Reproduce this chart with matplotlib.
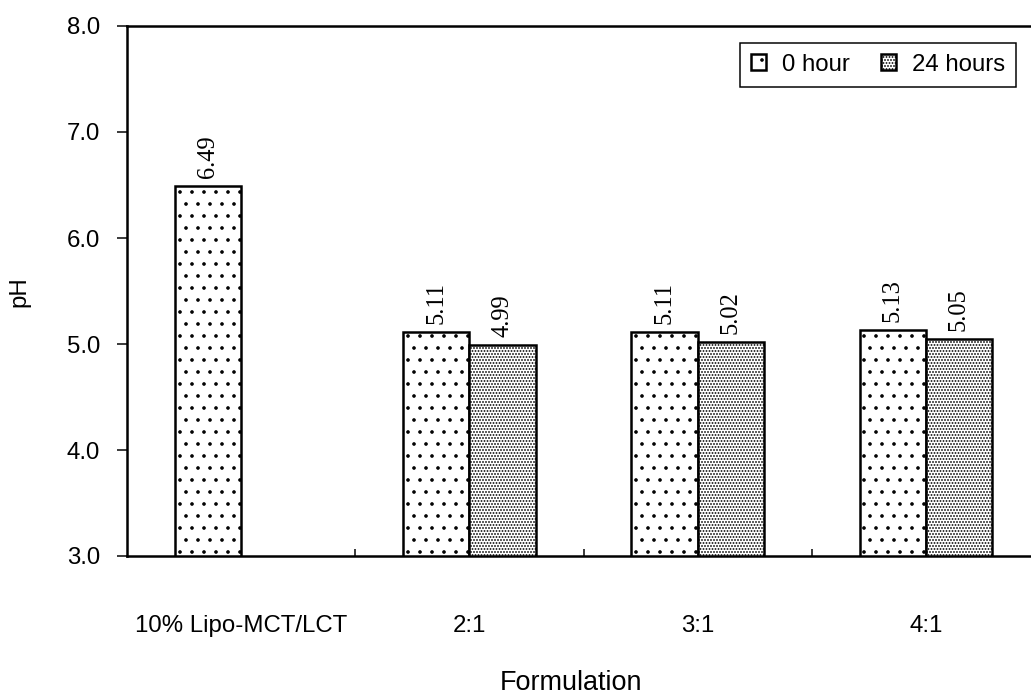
import numpy as np
import matplotlib.pyplot as plt

# pH of each formulation, measured right away and after a day
formulations = ['10% Lipo-MCT/LCT', '2:1', '3:1', '4:1']
ph_0h = [6.49, 5.11, 5.11, 5.13]
ph_24h = [np.nan, 4.99, 5.02, 5.05]
series_names = ['0 hour', '24 hours']

plt.rcParams['font.family'] = 'Liberation Sans'
plt.rcParams['hatch.linewidth'] = 1.2

W, H = 1031, 696
fig = plt.figure(figsize=(W / 72, H / 72), dpi=72)
# the plot frame runs a little past the right edge of the page
ax = fig.add_axes([127 / W, 140 / H, 913 / W, 530 / H])

x = np.arange(len(formulations))
w = 0.29
b0 = ax.bar(x - w / 2, ph_0h, w, facecolor='white', edgecolor='black',
            linewidth=2.5, hatch='.')
b1 = ax.bar(x + w / 2, ph_24h, w, facecolor='white', edgecolor='black',
            linewidth=2.5, hatch='....')

for bars, vals in [(b0, ph_0h), (b1, ph_24h)]:
    labels = ['' if np.isnan(v) else f'{v:.2f}' for v in vals]
    ax.bar_label(bars, labels=labels, padding=8, rotation=90,
                 family='Liberation Serif', fontsize=24.5)

ax.set_xlim(-0.5, 3.5)
ax.set_ylim(3.0, 8.0)
ax.set_yticks(np.arange(3, 8.01, 1.0))
ax.yaxis.set_major_formatter('{x:.1f}')
ax.tick_params(axis='y', length=10, width=1.5, pad=17, labelsize=24)

ax.set_xticks(x, formulations)
ax.tick_params(axis='x', which='major', length=0, pad=59, labelsize=24)
ax.set_xticks([0.5, 1.5, 2.5], minor=True)
ax.tick_params(axis='x', which='minor', direction='in', length=7, width=1.5)

for s in ax.spines.values():
    s.set_linewidth(2.5)

leg = ax.legend([b0, b1], series_names, ncol=2, loc='upper right',
                bbox_to_anchor=(1016 / W, 1 - 43 / H), bbox_transform=fig.transFigure,
                fancybox=False, edgecolor='black', framealpha=1, fontsize=24,
                handlelength=0.65, handleheight=0.65, handletextpad=0.65,
                columnspacing=1.3, borderpad=0.45, borderaxespad=0)
leg.get_frame().set_linewidth(1.5)

fig.text(571 / W, 1 - 683 / H, 'Formulation', ha='center', va='center', fontsize=27)
fig.text(19 / W, 1 - 292 / H, 'pH', rotation=90, ha='center', va='center', fontsize=24)

fig.savefig('out.png', dpi=72)
